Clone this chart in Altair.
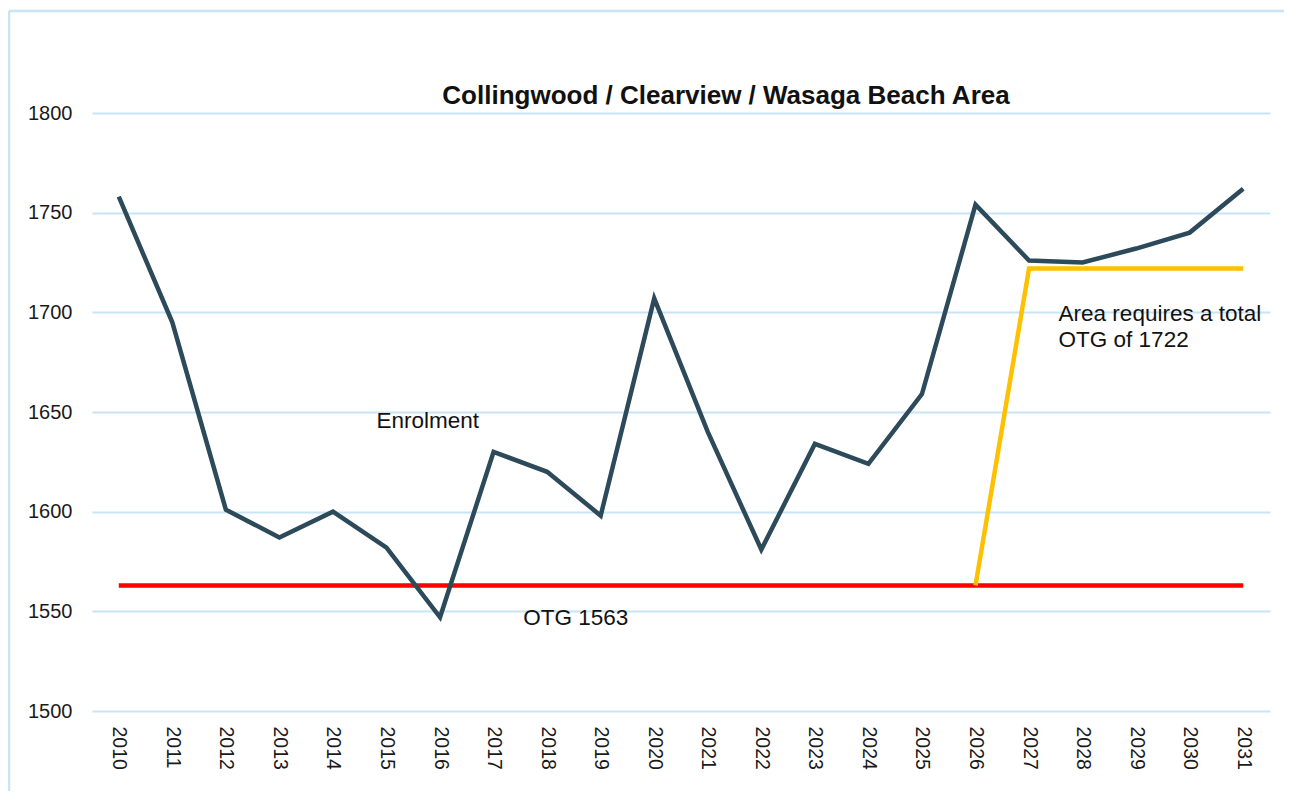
import altair as alt
import pandas as pd

years = ["2010", "2011", "2012", "2013", "2014", "2015", "2016", "2017", "2018", "2019", "2020",
         "2021", "2022", "2023", "2024", "2025", "2026", "2027", "2028", "2029", "2030", "2031"]
enrolment = [1758, 1695, 1601, 1587, 1600, 1582, 1547, 1630, 1620, 1598, 1707,
             1640, 1581, 1634, 1624, 1659, 1754, 1726, 1725, 1732, 1740, 1762]
otg_years = ["2010", "2031"]
otg_vals = [1563, 1563]
req_years = ["2026", "2027", "2031"]
req_vals = [1563, 1722, 1722]
y_ticks = [1500, 1550, 1600, 1650, 1700, 1750, 1800]

title_text = "Collingwood / Clearview / Wasaga Beach Area"
ann_text = ["Enrolment", "OTG 1563", "Area requires a total\nOTG of 1722"]
ann_year = ["2015", "2018", "2028"]
ann_val = [1642, 1543, 1695.6]
ann_dx = [-10, -24, -24]

FONT = "Liberation Sans"
BLUE = "#c8e4f7"

df_enr = pd.DataFrame({"year": years, "value": enrolment})
df_otg = pd.DataFrame({"year": otg_years, "value": otg_vals})
df_req = pd.DataFrame({"year": req_years, "value": req_vals})

xscale = alt.Scale(type="point", domain=years, padding=0.5)
yscale = alt.Scale(domain=[1500, 1800], nice=False, zero=False)

xenc = alt.X("year:N", scale=xscale, sort=years,
             axis=alt.Axis(title=None, labelAngle=90, labelAlign="left", labelBaseline="middle",
                           labelFontSize=19.5, labelFont=FONT,
                           labelColor="#1a1a1a", ticks=False, domain=False, grid=False,
                           labelPadding=15))
yenc = alt.Y("value:Q", scale=yscale,
             axis=alt.Axis(title=None, values=y_ticks, format="d", labelFontSize=20, labelFont=FONT,
                           labelColor="#1a1a1a", ticks=False, domain=False,
                           gridColor=BLUE, gridWidth=1.8, labelPadding=20))

enr = alt.Chart(df_enr).mark_line(color="#2c4a5a", strokeWidth=4.5).encode(x=xenc, y=yenc)
otg = alt.Chart(df_otg).mark_line(color="#ff0000", strokeWidth=4.5).encode(
    x=alt.X("year:N", scale=xscale, sort=years), y=alt.Y("value:Q", scale=yscale))
req = alt.Chart(df_req).mark_line(color="#ffc000", strokeWidth=4.5).encode(
    x=alt.X("year:N", scale=xscale, sort=years), y=alt.Y("value:Q", scale=yscale))

texts = []
for t, yr, v, dx in zip(ann_text, ann_year, ann_val, ann_dx):
    dft = pd.DataFrame({"year": [yr], "value": [v], "label": [t]})
    texts.append(
        alt.Chart(dft).mark_text(align="left", baseline="alphabetic", fontSize=22.5, font=FONT,
                                 color="#111111", dx=dx, lineBreak="\n", lineHeight=26).encode(
            x=alt.X("year:N", scale=xscale, sort=years),
            y=alt.Y("value:Q", scale=yscale),
            text="label:N")
    )

title = alt.Chart(pd.DataFrame({"label": [title_text]})).mark_text(
    align="center", baseline="alphabetic", fontSize=26, font=FONT, fontWeight="bold",
    color="#111111").encode(x=alt.value(634), y=alt.value(-9), text="label:N")

frame_top = alt.Chart(pd.DataFrame({"a": [0]})).mark_rule(color=BLUE, strokeWidth=2.5).encode(
    x=alt.value(-83), x2=alt.value(1250), y=alt.value(-102), y2=alt.value(-102))
frame_left = alt.Chart(pd.DataFrame({"a": [0]})).mark_rule(color=BLUE, strokeWidth=2.5).encode(
    x=alt.value(-83), x2=alt.value(-83), y=alt.value(-102), y2=alt.value(720))

chart = alt.layer(frame_top, frame_left, otg, req, enr, title, *texts).properties(
    width=1178, height=598,
    background="white",
    autosize=alt.AutoSizeParams(type="none"),
    padding={"left": 84, "top": 105, "right": 14, "bottom": 80},
).configure_view(stroke=None)

chart.save("out.html", embed_options={"renderer": "svg", "actions": False})
